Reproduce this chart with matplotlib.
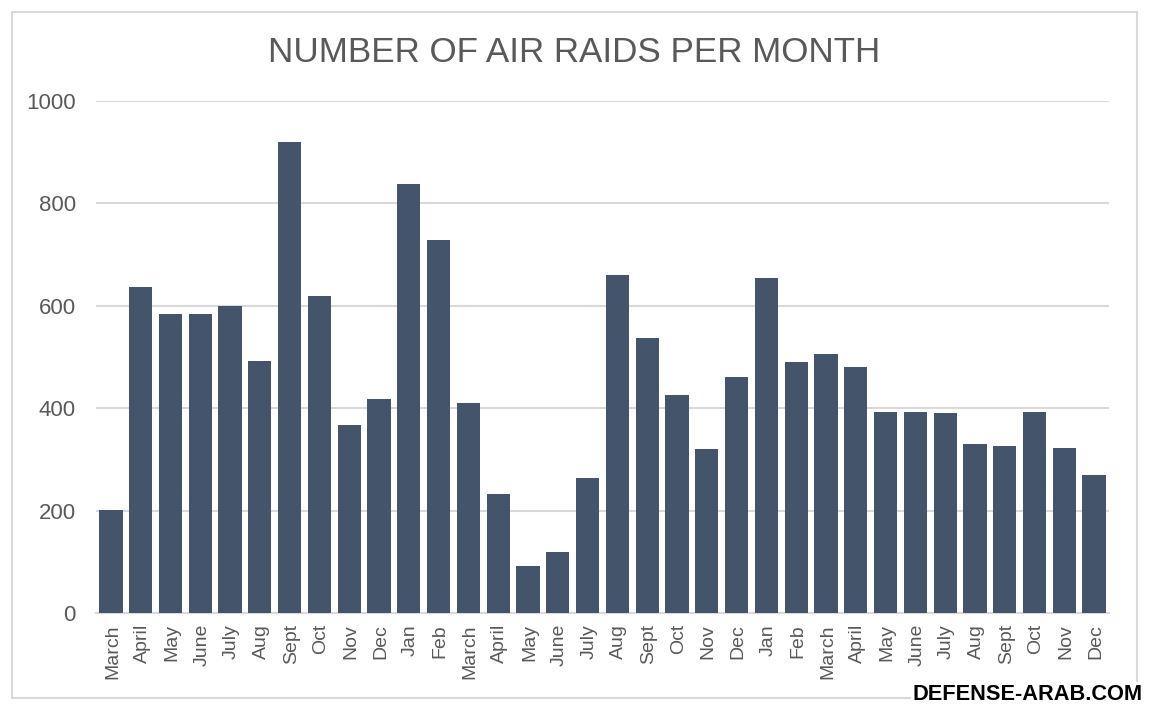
import matplotlib
matplotlib.use('Agg')
import matplotlib.pyplot as plt
from matplotlib.patches import Rectangle
from matplotlib.transforms import ScaledTranslation

months = ['March', 'April', 'May', 'June', 'July', 'Aug', 'Sept', 'Oct', 'Nov', 'Dec',
          'Jan', 'Feb', 'March', 'April', 'May', 'June', 'July', 'Aug', 'Sept', 'Oct', 'Nov', 'Dec',
          'Jan', 'Feb', 'March', 'April', 'May', 'June', 'July', 'Aug', 'Sept', 'Oct', 'Nov', 'Dec']
raids = [202, 637, 584, 584, 600, 492, 920, 619, 367, 418,
         838, 729, 410, 233, 92, 120, 264, 660, 537, 426, 320, 461,
         655, 490, 505, 481, 392, 392, 391, 330, 326, 393, 323, 270]
yticks = [0, 200, 400, 600, 800, 1000]

W, H = 1150, 712
plt.rcParams['font.family'] = ['Liberation Sans', 'DejaVu Sans']

fig = plt.figure(figsize=(W / 100, H / 100), dpi=100)
ax = fig.add_axes([96 / W, 1 - 613 / H, (1109 - 96) / W, (613 - 101) / H])

x = range(len(raids))
ax.bar(x, raids, width=0.78, color='#44546a', zorder=3)

ax.set_xlim(-0.5, len(raids) - 0.5)
ax.set_ylim(0, 1000)
ax.set_yticks(yticks)
ax.set_xticks(list(x))
ax.set_xticklabels(months, rotation=90, fontsize=14, color='#595959')
ax.tick_params(axis='y', labelsize=16, labelcolor='#595959', length=0, pad=14.5)
ax.tick_params(axis='x', length=0, pad=8)
# labels sit a little right of the bar centre
shift = ScaledTranslation(1.5 / 100, 0, fig.dpi_scale_trans)
for lab in ax.get_xticklabels():
    lab.set_transform(lab.get_transform() + shift)
ax.grid(axis='y', color='#d9d9d9', linewidth=1.5, zorder=0)
for s in ['top', 'right', 'left']:
    ax.spines[s].set_visible(False)
ax.spines['bottom'].set_color('#d9d9d9')
ax.spines['bottom'].set_linewidth(1.5)

# outer frame
fig.add_artist(Rectangle((12 / W, 1 - 698 / H), (1137 - 12) / W, (698 - 12) / H,
                         transform=fig.transFigure, fill=False, edgecolor='#d9d9d9', linewidth=1.5))

fig.text(574 / W, 1 - 53 / H, 'NUMBER OF AIR RAIDS PER MONTH', ha='center', va='center',
         fontsize=25.2, color='#595959')
fig.text(1143 / W, 1 - 695 / H, 'DEFENSE-ARAB.COM', ha='right', va='center',
         fontsize=15.7, fontweight='bold', color='black',
         bbox=dict(facecolor='white', edgecolor='none', pad=1.5))

fig.savefig('out.png', dpi=100, facecolor='white')
